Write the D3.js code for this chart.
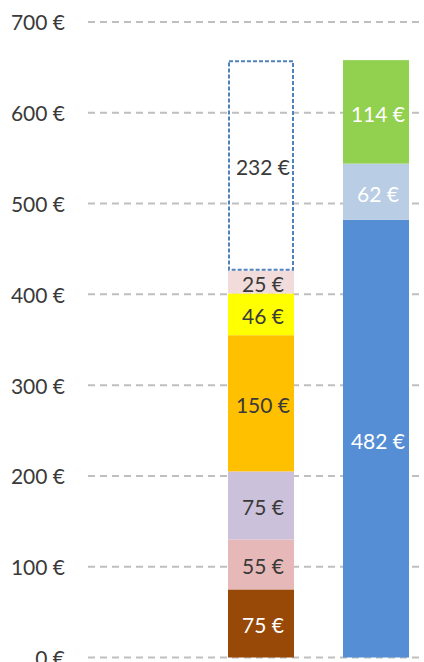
<!DOCTYPE html>
<html><head><meta charset="utf-8">
<script src="https://cdn.jsdelivr.net/npm/d3@7"></script>
<style>html,body{margin:0;padding:0;background:#fff}svg{display:block}</style>
</head><body>
<svg id="c" width="424" height="662"></svg>
<script>
const categories = ["Ausgaben", "Einnahmen"];
const seriesLeft = [
  {name: "s1", value: 75, color: "#984807", text: "#ffffff"},
  {name: "s2", value: 55, color: "#E6B9B8", text: "#404040"},
  {name: "s3", value: 75, color: "#CCC1DA", text: "#404040"},
  {name: "s4", value: 150, color: "#FFC000", text: "#404040"},
  {name: "s5", value: 46, color: "#FFFF00", text: "#404040"},
  {name: "s6", value: 25, color: "#F2DCDB", text: "#404040"},
  {name: "s7", value: 232, color: "none", text: "#404040", dashed: true}
];
const seriesRight = [
  {name: "r1", value: 482, color: "#558ED5", text: "#ffffff"},
  {name: "r2", value: 62, color: "#B9CDE5", text: "#ffffff"},
  {name: "r3", value: 114, color: "#92D050", text: "#ffffff"}
];
const yTicks = [0, 100, 200, 300, 400, 500, 600, 700];

const svg = d3.select("#c");
const font = "Lato, 'Open Sans', sans-serif";
const y = d3.scaleLinear().domain([0, 700]).range([657.5, 22]);
const x = d3.scaleBand().domain(categories).range([203.5, 433.5]).paddingInner(0.426).paddingOuter(0.213);

// gridlines
svg.append("g").selectAll("line").data(yTicks).join("line")
  .attr("x1", 88).attr("x2", 420)
  .attr("y1", d => y(d)).attr("y2", d => y(d))
  .attr("stroke", "#BFBFBF").attr("stroke-width", 2).attr("stroke-dasharray", "7,5");

// y axis labels
const yAxis = d3.axisLeft(y).tickValues(yTicks).tickSize(0).tickPadding(0).tickFormat(d => d + " €");
const ga = svg.append("g").attr("transform", "translate(65,0)").call(yAxis);
ga.select(".domain").remove();
ga.selectAll("text").attr("font-family", font).attr("font-size", 21).attr("fill", "#3a3a3a").attr("dy", "0.38em");

function drawStack(cat, series) {
  let acc = 0;
  const rows = series.map(s => { const r = {...s, y0: acc, y1: acc + s.value}; acc += s.value; return r; });
  const g = svg.append("g");
  rows.forEach(r => {
    if (r.dashed) {
      g.append("rect").attr("x", x(cat) + 1).attr("width", x.bandwidth() - 2)
        .attr("y", y(r.y1) + 1).attr("height", y(r.y0) - y(r.y1) - 2)
        .attr("fill", "none").attr("stroke", "#4F81BD").attr("stroke-width", 2).attr("stroke-dasharray", "4,2");
    } else {
      g.append("rect").attr("x", x(cat)).attr("width", x.bandwidth())
        .attr("y", y(r.y1)).attr("height", y(r.y0) - y(r.y1)).attr("fill", r.color);
    }
  });
  rows.forEach(r => {
    g.append("text").attr("x", x(cat) + x.bandwidth() / 2 + 2).attr("y", y((r.y0 + r.y1) / 2) + 2.5)
      .attr("dy", "0.35em").attr("text-anchor", "middle")
      .attr("font-family", font).attr("font-size", 21).attr("fill", r.text === "#404040" ? "#3a3a3a" : r.text)
      .text(r.value + " €");
  });
}
drawStack(categories[0], seriesLeft);
drawStack(categories[1], seriesRight);
</script>
</body></html>
